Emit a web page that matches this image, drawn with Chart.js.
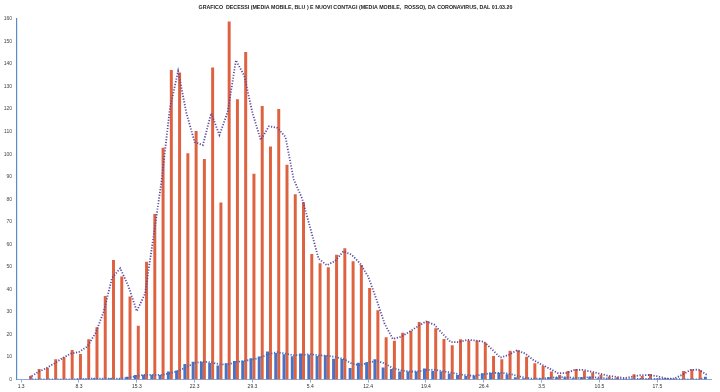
<!DOCTYPE html>
<html><head><meta charset="utf-8">
<script src="https://cdn.jsdelivr.net/npm/chart.js@4/dist/chart.umd.min.js"></script>
<style>html,body{margin:0;padding:0;background:#fff}#wrap{width:720px;height:392px}</style>
</head><body><div id="wrap"><canvas id="c" width="720" height="392"></canvas></div>
<script>
const titleText = "GRAFICO  DECESSI (MEDIA MOBILE, BLU ) E NUOVI CONTAGI (MEDIA MOBILE,  ROSSO), DA CORONAVIRUS, DAL 01.03.20";

const categories = [
 "1.3","2.3","3.3","4.3","5.3","6.3","7.3","8.3","9.3","10.3","11.3","12.3","13.3","14.3","15.3","16.3",
 "17.3","18.3","19.3","20.3","21.3","22.3","23.3","24.3","25.3","26.3","27.3","28.3","29.3","30.3","31.3",
 "1.4","2.4","3.4","4.4","5.4","6.4","7.4","8.4","9.4","10.4","11.4","12.4","13.4","14.4","15.4","16.4",
 "17.4","18.4","19.4","20.4","21.4","22.4","23.4","24.4","25.4","26.4","27.4","28.4","29.4","30.4",
 "1.5","2.5","3.5","4.5","5.5","6.5","7.5","8.5","9.5","10.5","11.5","12.5","13.5","14.5","15.5","16.5",
 "17.5","18.5","19.5","20.5","21.5","22.5","23.5"
];

const tickLabels = ["1.3","8.3","15.3","22.3","29.3","5.4","12.4","19.4","26.4","3.5","10.5","17.5"];

const nuoviContagi = [
 0, 1.7, 4.7, 5.2, 9, 9.9, 13.1, 11.3, 17.9, 23.2, 37.1, 53, 45.7, 36.8, 23.9, 52.3,
 73.4, 102.9, 137.4, 136.2, 100.4, 110.3, 97.8, 138.5, 78.5, 158.9, 124.4, 145.3, 91.3, 121.4, 103.4,
 120, 95.3, 82.2, 78.7, 55.7, 51.6, 49.8, 55.4, 58.3, 52.5, 50.8, 40.6, 30.7, 18.7, 17.2, 20.8,
 21.6, 25.5, 26, 22.7, 18, 15.2, 17.9, 17.3, 17.3, 16.3, 10.4, 9, 12.8, 13,
 10.1, 7.2, 6, 3.5, 2, 3.8, 4.7, 3.9, 3.1, 2.1, 1.3, 1, 0.3, 2.3, 1.6, 2.4,
 0.5, 0.4, 0.3, 3.8, 4.6, 4.2, 0
];

const decessi = [
 0, 0, 0, 0, 0, 0, 0, 0.3, 0.3, 0.5, 0.3, 0.5, 0.3, 1.2, 2, 2.1,
 2.1, 2, 3.5, 4, 6.9, 7.9, 7.9, 7.3, 6.2, 7.2, 8.2, 8.3, 9.4, 10.2, 12.4,
 11.8, 11.2, 10.3, 11.5, 11, 10.4, 10.8, 9.2, 9.1, 5.1, 7.4, 7.6, 9, 5.3, 4.7, 3.5,
 3.6, 3.5, 4.9, 3.8, 3.5, 2.7, 2, 1.6, 1.8, 2.8, 3, 3, 2.3, 1,
 0.5, 0.2, 0.5, 1, 1, 1, 0.5, 1, 1.2, 0.5, 0.3, 0.1, 0.1, 0.3, 0.3, 0.3,
 0.3, 0.3, 0.1, 0.1, 0, 0.1, 1.2
];

// Excel-style 2-period moving average trendline of each series
function movingAverage(arr){ return arr.map((v,i)=> i===0 ? null : (arr[i-1]+v)/2); }

const RED = '#DF6240';
const BLUE = '#4A72C2';

new Chart(document.getElementById('c'), {
  data: {
    labels: categories,
    datasets: [
      { type:'line', data: movingAverage(nuoviContagi), borderColor:'#5C4A9E', borderWidth:1.8,
        borderDash:[1.2,1.6], pointRadius:0, tension:0, fill:false, order:0, spanGaps:true },
      { type:'line', data: movingAverage(decessi), borderColor:'#3E6CC0', borderWidth:1.8,
        borderDash:[1.2,1.6], pointRadius:0, tension:0, fill:false, order:0, spanGaps:true },
      { type:'bar', data: decessi, backgroundColor: BLUE, barPercentage:1, categoryPercentage:0.72, order:1 },
      { type:'bar', data: nuoviContagi, backgroundColor: RED, barPercentage:1, categoryPercentage:0.72, order:1 }
    ]
  },
  options: {
    responsive:false, animation:false,
    layout:{ padding:{ left:0, right:9, top:0, bottom:0 } },
    plugins:{
      legend:{ display:false }, tooltip:{ enabled:false },
      title:{ display:true, text:titleText, color:'#222',
        font:{ family:"'Liberation Sans',sans-serif", size:5.3, weight:'bold' },
        padding:{ top:4, bottom:8.6 } }
    },
    scales:{
      x:{ type:'category', offset:true,
        grid:{ display:true, offset:false, drawOnChartArea:false, drawTicks:true, tickLength:3,
          color:(ctx)=> tickLabels.includes(categories[ctx.index]) ? '#8AAEDB' : 'rgba(0,0,0,0)' },
        border:{ display:true, color:'#8AAEDB', width:1 },
        ticks:{ autoSkip:false, maxRotation:0, minRotation:0, padding:1, color:'#333',
          font:{ family:"'Liberation Sans',sans-serif", size:5 },
          callback:(v,i)=> tickLabels.includes(categories[i]) ? categories[i] : '' },
        afterFit:(s)=>{ s.height = 12.5; }
      },
      y:{ min:0, max:160,
        grid:{ display:false, drawTicks:false },
        border:{ display:true, color:'#5A8CC8', width:1.2 },
        ticks:{ stepSize:10, padding:5, color:'#444',
          font:{ family:"'Liberation Sans',sans-serif", size:5 } },
        afterFit:(s)=>{ s.width = 17; }
      }
    }
  }
});
</script>
</body></html>
